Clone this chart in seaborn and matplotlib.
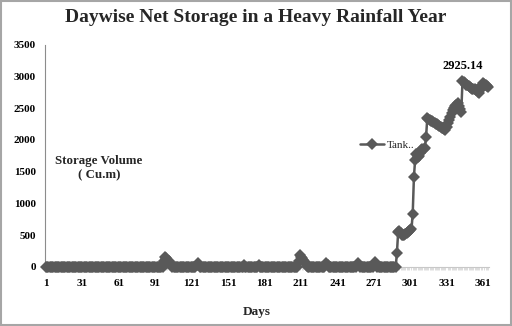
import numpy as np
import pandas as pd
import matplotlib
matplotlib.use("Agg")
import matplotlib.pyplot as plt
from matplotlib.patches import Rectangle
import seaborn as sns

# ---- data: daily net storage (Cu.m) for the tank, days 1..365 ----
n_days = 365
event_days = (
    [98, 99, 100, 101, 102, 103, 104]
    + [125, 126, 127]
    + [164, 176]
    + [209, 210, 211, 212, 213, 214, 215, 216]
    + [231, 232, 233]
    + [257, 258, 259]
    + [271, 272, 273]
    + list(range(290, 366))
)
event_volumes = (
    [100, 165, 140, 115, 90, 60, 30]
    + [25, 60, 25]
    + [25, 25]
    + [100, 195, 165, 135, 105, 75, 45, 15]
    + [30, 60, 30]
    + [30, 60, 30]
    + [40, 80, 40]
    + [225, 545, 560, 530, 510, 500, 505, 515, 530, 545,
       560, 575, 600, 835, 1420, 1690, 1780, 1730, 1750, 1790,
       1840, 1850, 1865, 1875, 2050, 2340, 2328, 2316, 2304, 2292,
       2280, 2268, 2256, 2244, 2232, 2220, 2208, 2196, 2184, 2172,
       2160, 2210, 2260, 2310, 2360, 2420, 2470, 2500, 2530, 2555,
       2580, 2530, 2480, 2445, 2925.14, 2905, 2890, 2872, 2858, 2843,
       2830, 2815, 2808, 2802, 2796, 2790, 2785, 2760, 2735, 2800,
       2860, 2895, 2880, 2865, 2852, 2840]
)
x_tick_days = [1, 31, 61, 91, 121, 151, 181, 211, 241, 271, 301, 331, 361]
y_ticks = [0, 500, 1000, 1500, 2000, 2500, 3000, 3500]
series_name = "Tank.."

days = np.arange(1, n_days + 1)
storage = np.zeros(n_days)
storage[np.array(event_days) - 1] = event_volumes
df = pd.DataFrame({"Day": days, "Storage": storage, "Series": series_name})

# ---- style ----
sns.set_theme(style="white")
plt.rcParams["font.family"] = ["Liberation Serif", "DejaVu Serif"]
plt.rcParams["font.weight"] = "bold"

line_color = "#595959"

fig = plt.figure(figsize=(5.12, 3.26), dpi=100)
ax = fig.add_axes([45.4 / 512, 59 / 326, 443.2 / 512, 222.3 / 326])

sns.lineplot(data=df, x="Day", y="Storage", hue="Series", palette=[line_color],
             marker="D", markersize=6.2, markeredgewidth=0, linewidth=1.8,
             ax=ax, legend=True, clip_on=False, zorder=3)

ax.set_xlim(0.5, n_days + 0.5)
ax.set_ylim(0, 3500)
ax.set_xticks(x_tick_days)
ax.set_xticklabels([str(d) for d in x_tick_days], fontsize=8, fontweight="bold")
ax.set_xticks(days, minor=True)
ax.set_yticks(y_ticks)
ax.set_yticklabels([str(v) for v in y_ticks], fontsize=8, fontweight="bold")
ax.set_xlabel("")
ax.set_ylabel("")

for side in ("top", "right"):
    ax.spines[side].set_visible(False)
ax.spines["left"].set_color("#8c8c8c")
ax.spines["left"].set_linewidth(0.8)
ax.spines["bottom"].set_color("#c8c8c8")
ax.spines["bottom"].set_linewidth(0.8)
ax.tick_params(axis="y", which="major", direction="out", length=3, width=0.8,
               color="#8c8c8c", pad=4, labelcolor="black")
ax.tick_params(axis="x", which="major", direction="out", length=3, width=0.6,
               color="#c8c8c8", pad=6, labelcolor="black")
ax.tick_params(axis="x", which="minor", direction="out", length=2.5, width=0.5,
               color="#cfcfcf", bottom=True)

# peak value label
peak_idx = int(np.argmax(storage))
ax.annotate(f"{storage[peak_idx]:.2f}", xy=(days[peak_idx], storage[peak_idx]),
            xytext=(0, 11), textcoords="offset points", ha="center", va="center",
            fontsize=9, fontweight="bold", color="black")

# legend
handles, labels = ax.get_legend_handles_labels()
ax.legend(handles, labels, loc="center left", bbox_to_anchor=(350 / 512, 1 - 145 / 326),
          bbox_transform=fig.transFigure, frameon=False, handlelength=2.2,
          handletextpad=0.2, prop={"family": "Liberation Serif", "size": 8,
                                   "weight": "normal"})

# titles and axis captions
fig.text(256 / 512, 1 - 18 / 326, "Daywise Net Storage in a Heavy Rainfall Year",
         ha="center", va="center", fontsize=14, fontweight="bold")
fig.text(257 / 512, 1 - 312 / 326, "Days", ha="center", va="center",
         fontsize=9.5, fontweight="bold")
fig.text(99 / 512, 1 - 168 / 326, "Storage Volume\n( Cu.m)", ha="center", va="center",
         multialignment="center", fontsize=9.3, fontweight="bold", linespacing=1.3)

# chart frame
fig.patches.append(Rectangle((0.002, 0.003), 0.996, 0.994, transform=fig.transFigure,
                             fill=False, edgecolor="#a6a6a6", linewidth=1.5))

fig.savefig("out.png", dpi=100)
